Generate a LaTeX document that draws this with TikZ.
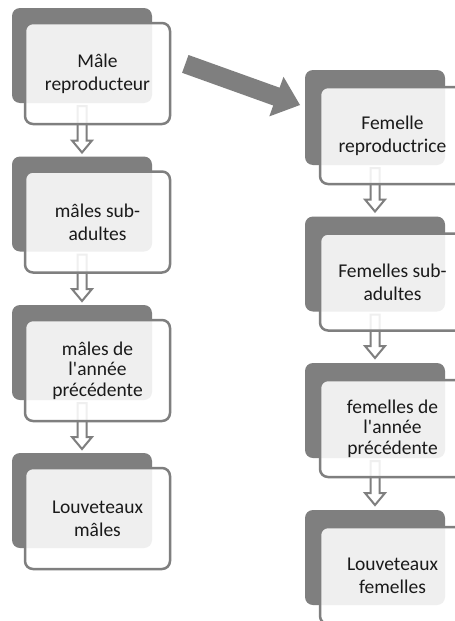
\documentclass[tikz,border=0pt]{standalone}
\usepackage{fontspec}
\setmainfont{Carlito}
\usetikzlibrary{calc}
\definecolor{sagrey}{HTML}{7F7F7F}
\definecolor{txtcol}{HTML}{1A1A1A}
\tikzset{
  backbox/.style={fill=sagrey, rounded corners=8pt, minimum width=140pt, minimum height=95pt, anchor=north west, inner sep=0pt, outer sep=0pt},
  frontbox/.style={draw=sagrey, line width=2.5pt, fill=white, fill opacity=0.88, text opacity=1, rounded corners=8pt, anchor=north west, align=center, text=txtcol, inner sep=0pt, outer sep=0pt, minimum width=145pt},
  twoline/.style={font=\fontsize{19.5}{23}\selectfont},
  threeline/.style={font=\fontsize{19.5}{20.5}\selectfont},
  smallarrow/.style={draw=sagrey, line width=2pt, fill=white, line join=miter},
  bigarrow/.style={fill=sagrey, draw=none},
}
\newcommand{\hollowdown}[2]{%
  \draw[smallarrow] let \p1=(#1), \p2=(#2) in
    (\x1-4.5pt,\y1) -- (\x1-4.5pt,\y2+12pt) -- (\x1-10pt,\y2+12pt) -- (\x1,\y2)
    -- (\x1+10pt,\y2+12pt) -- (\x1+4.5pt,\y2+12pt) -- (\x1+4.5pt,\y1) -- cycle;}
\begin{document}
\begin{tikzpicture}[x=1pt,y=-1pt]
\clip (0,0) rectangle (455,621);
\fill[white] (0,0) rectangle (455,621);
% ---------- left column ----------
\node[backbox] (mb1) at (12,8) {};
\node[backbox] (mb2) at (12,156.5) {};
\node[backbox] (mb3) at (12,305) {};
\node[backbox] (mb4) at (12,453) {};
\coordinate (ma1s) at ($(mb1.south)+(0,3)$);
\coordinate (ma1t) at ($(mb2.north)+(0,-4)$);
\coordinate (ma2s) at ($(mb2.south)+(0,3)$);
\coordinate (ma2t) at ($(mb3.north)+(0,-4)$);
\coordinate (ma3s) at ($(mb3.south)+(0,3)$);
\coordinate (ma3t) at ($(mb4.north)+(0,-4)$);
\hollowdown{ma1s}{ma1t}
\hollowdown{ma2s}{ma2t}
\hollowdown{ma3s}{ma3t}
\node[frontbox, twoline, minimum height=101pt] (m1) at (25,23) {Mâle\\reproducteur};
\node[frontbox, twoline, minimum height=101pt] (m2) at (25,171.5) {mâles sub-\\adultes};
\node[frontbox, threeline, minimum height=101pt] (m3) at (25,320) {mâles de\\l\textquotesingle année\\précédente};
\node[frontbox, twoline, minimum height=101pt] (m4) at (25,468) {Louveteaux\\mâles};
% ---------- right column ----------
\node[backbox] (fb1) at (305,70) {};
\node[backbox] (fb2) at (305,216.5) {};
\node[backbox] (fb3) at (305,363) {};
\node[backbox] (fb4) at (305,510) {};
\coordinate (fa1s) at ($(fb1.south)+(0,3)$);
\coordinate (fa1t) at ($(fb2.north)+(0,-5)$);
\coordinate (fa2s) at ($(fb2.south)+(0,3)$);
\coordinate (fa2t) at ($(fb3.north)+(0,-5)$);
\coordinate (fa3s) at ($(fb3.south)+(0,3)$);
\coordinate (fa3t) at ($(fb4.north)+(0,-5)$);
\hollowdown{fa1s}{fa1t}
\hollowdown{fa2s}{fa2t}
\hollowdown{fa3s}{fa3t}
\node[frontbox, twoline, minimum height=97pt] (f1) at (320,87) {Femelle\\reproductrice};
\node[frontbox, twoline, minimum height=97pt] (f2) at (320,233.5) {Femelles sub-\\adultes};
\node[frontbox, threeline, minimum height=97pt] (f3) at (320,380) {femelles de\\l\textquotesingle année\\précédente};
\node[frontbox, twoline, minimum height=97pt] (f4) at (320,527) {Louveteaux\\femelles};
% ---------- big arrow ----------
\coordinate (bigtail) at (185.3,63.9);
\coordinate (bigtip) at (300,105);
\fill[bigarrow] (182.1,72.8) -- (188.5,55.0) -- (279.6,87.7) -- (283.5,76.8)
  -- (bigtip) -- (269.3,116.4) -- (273.2,105.5) -- cycle;
\end{tikzpicture}
\end{document}
